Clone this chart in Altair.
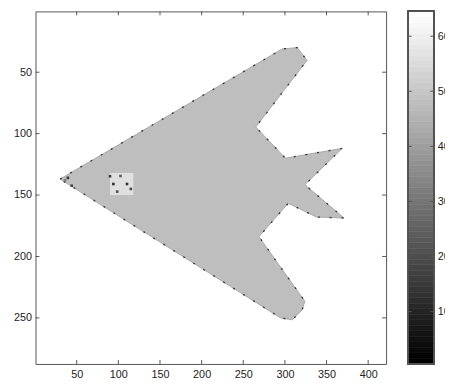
import altair as alt
import pandas as pd

# ---- data ----
shape_x = [30, 297, 315, 326.5, 265, 300.6, 368.8, 324, 371, 338, 304, 268.8, 324, 320.6, 308.8, 294.7, 30]
shape_y = [137, 31, 30, 40.4, 94.6, 120, 112, 141.6, 168.7, 167.9, 156.7, 183.9, 236.5, 243.6, 251.6, 250, 137]
shape_level = 48

cockpit_x0 = [90]
cockpit_x1 = [118]
cockpit_y0 = [132]
cockpit_y1 = [150]
cockpit_level = [58]

speck_x = [90, 94, 98.6, 110.4, 115, 102.6, 39.4, 44, 36]
speck_y = [134.7, 141, 147.2, 141, 145, 134.5, 136, 142.4, 138]
speck_level = [12, 8, 16, 10, 14, 20, 10, 14, 30]

x_ticks = [50, 100, 150, 200, 250, 300, 350, 400]
y_ticks = [50, 100, 150, 200, 250]
cbar_ticks = [10, 20, 30, 40, 50, 60]
cbar_levels = list(range(1, 65))

W, H = 357, 359
FONT = "Liberation Sans"

gray = alt.Scale(domain=[1, 64], range=["#000000", "#ffffff"], interpolate="rgb")
xs = alt.Scale(domain=[0.5, 421.5], nice=False, zero=False)
ys = alt.Scale(domain=[0.5, 287.5], nice=False, zero=False, reverse=True)
cs = alt.Scale(domain=[0.5, 64.5], nice=False, zero=False)

shape_df = pd.DataFrame({"x": shape_x, "y": shape_y, "i": range(len(shape_x)),
                         "level": [shape_level] * len(shape_x)})
cock_df = pd.DataFrame({"x0": cockpit_x0, "x1": cockpit_x1, "y0": cockpit_y0,
                        "y1": cockpit_y1, "level": cockpit_level})
speck_df = pd.DataFrame({"x": speck_x, "y": speck_y, "level": speck_level})
xt_df = pd.DataFrame({"t": x_ticks})
yt_df = pd.DataFrame({"t": y_ticks})
cb_df = pd.DataFrame({"level": cbar_levels,
                      "lo": [v - 0.5 for v in cbar_levels],
                      "hi": [v + 0.5 for v in cbar_levels]})
ct_df = pd.DataFrame({"t": cbar_ticks})

xaxis = alt.Axis(values=x_ticks, ticks=False, domain=False, grid=False, title=None,
                 labelPadding=5, labelFontSize=11, labelFont=FONT, labelColor="#222")
yaxis = alt.Axis(values=y_ticks, ticks=False, domain=False, grid=False, title=None,
                 labelPadding=4, labelFontSize=11, labelFont=FONT, labelColor="#222")

shape = alt.Chart(shape_df).mark_line(stroke="#a8a8a8", strokeWidth=1).encode(
    x=alt.X("x:Q", scale=xs, axis=xaxis),
    y=alt.Y("y:Q", scale=ys, axis=yaxis),
    order="i:Q",
    fill=alt.Fill("level:Q", scale=gray, legend=None),
)
edge = alt.Chart(shape_df).mark_line(stroke="#3a3a3a", strokeWidth=1.4,
                                     strokeDash=[2, 10]).encode(
    x=alt.X("x:Q", scale=xs), y=alt.Y("y:Q", scale=ys), order="i:Q")
cock = alt.Chart(cock_df).mark_rect(opacity=0.8).encode(
    x=alt.X("x0:Q", scale=xs), x2="x1:Q",
    y=alt.Y("y0:Q", scale=ys), y2="y1:Q",
    fill=alt.Fill("level:Q", scale=gray, legend=None))
specks = alt.Chart(speck_df).mark_square(size=7, opacity=0.9).encode(
    x=alt.X("x:Q", scale=xs), y=alt.Y("y:Q", scale=ys),
    fill=alt.Fill("level:Q", scale=gray, legend=None))

tk = dict(color="#555", strokeWidth=1)
xt_bot = alt.Chart(xt_df).mark_rule(**tk).encode(
    x=alt.X("t:Q", scale=xs), y=alt.value(H), y2=alt.value(H - 4))
xt_top = alt.Chart(xt_df).mark_rule(**tk).encode(
    x=alt.X("t:Q", scale=xs), y=alt.value(0), y2=alt.value(4))
yt_left = alt.Chart(yt_df).mark_rule(**tk).encode(
    y=alt.Y("t:Q", scale=ys), x=alt.value(0), x2=alt.value(4))
yt_right = alt.Chart(yt_df).mark_rule(**tk).encode(
    y=alt.Y("t:Q", scale=ys), x=alt.value(W), x2=alt.value(W - 4))

main = alt.layer(shape, edge, cock, specks, xt_bot, xt_top, yt_left, yt_right)

CB0, CB1 = 379, 406
cells = alt.Chart(cb_df).mark_rect(strokeWidth=0.6).encode(
    x=alt.value(CB0), x2=alt.value(CB1),
    y=alt.Y("lo:Q", scale=cs,
            axis=alt.Axis(orient="right", offset=CB1 - W, values=cbar_ticks, ticks=False,
                          domain=False, grid=False, title=None, labelPadding=3,
                          labelFontSize=11, labelFont=FONT, labelColor="#222")),
    y2="hi:Q",
    fill=alt.Fill("level:Q", scale=gray, legend=None),
    stroke=alt.Stroke("level:Q", scale=gray, legend=None))
cframe = alt.Chart(cb_df).mark_rect(fill=None, stroke="#555", strokeWidth=1).encode(
    x=alt.value(CB0), x2=alt.value(CB1), y=alt.value(0), y2=alt.value(H))
ct_l = alt.Chart(ct_df).mark_rule(**tk).encode(
    y=alt.Y("t:Q", scale=cs), x=alt.value(CB0), x2=alt.value(CB0 + 4))
ct_r = alt.Chart(ct_df).mark_rule(**tk).encode(
    y=alt.Y("t:Q", scale=cs), x=alt.value(CB1), x2=alt.value(CB1 - 4))

cbar = alt.layer(cells, cframe, ct_l, ct_r)

chart = alt.layer(main, cbar).resolve_scale(y="independent").resolve_axis(
    y="independent").properties(
    width=W, height=H,
    autosize=alt.AutoSizeParams(type="none"),
    padding={"left": 28, "top": 0, "right": 60, "bottom": 20},
    background="white",
).configure_view(stroke="#555", strokeWidth=1)

chart.save("out.html", embed_options={"renderer": "svg", "actions": False})
